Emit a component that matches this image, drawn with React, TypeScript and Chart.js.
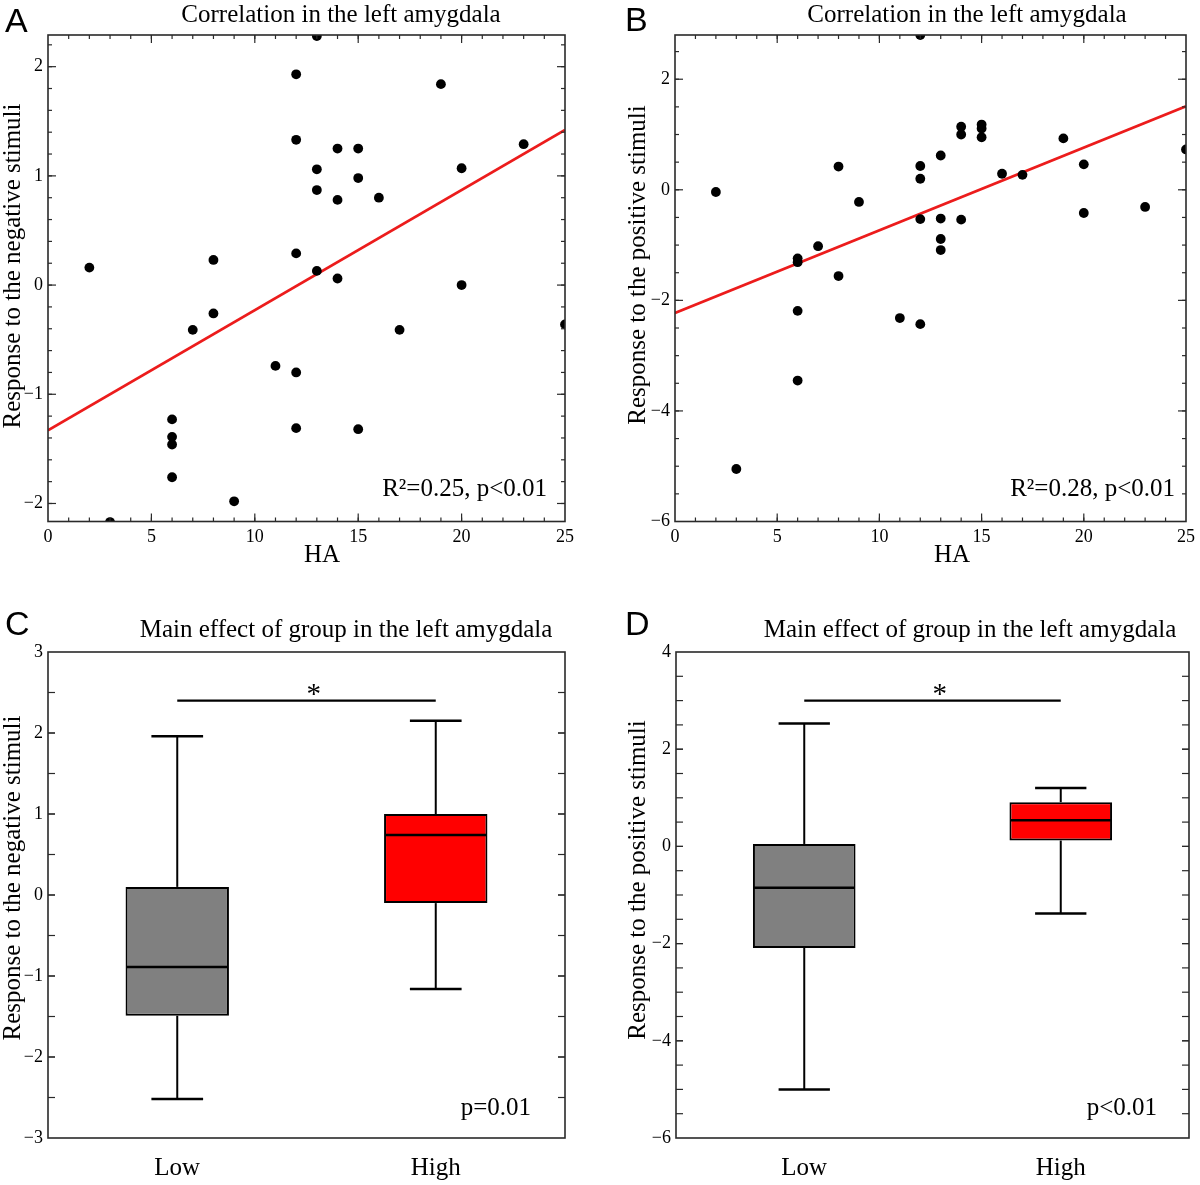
import React, { useEffect, useRef } from 'react';
import { Chart, registerables } from 'chart.js';

Chart.register(...registerables);

const SERIF = '"Liberation Serif", "Times New Roman", serif';
const SANS = '"Liberation Sans", Arial, sans-serif';

// ---------- Panel A: HA vs response to negative stimuli ----------
const haA = [13, 12, 19, 12, 14, 15, 23, 13, 20, 15, 13, 14, 16, 2, 8, 12, 13, 14, 20, 7, 8, 17, 25, 11, 12, 6, 6, 6, 12, 15, 6, 9, 3];
const negRespA = [2.28, 1.93, 1.84, 1.33, 1.25, 1.25, 1.29, 1.06, 1.07, 0.98, 0.87, 0.78, 0.8, 0.16, 0.23, 0.29, 0.13, 0.06, 0.0, -0.41, -0.26, -0.41, -0.36, -0.74, -0.8, -1.23, -1.39, -1.46, -1.31, -1.32, -1.76, -1.98, -2.17];
const fitXA = [0, 25];
const fitYA = [-1.33, 1.42];

// ---------- Panel B: HA vs response to positive stimuli ----------
const haB = [12, 2, 14, 14, 15, 15, 15, 19, 25, 13, 8, 12, 12, 16, 17, 20, 9, 23, 20, 12, 13, 14, 13, 13, 7, 6, 6, 8, 6, 11, 12, 6, 3];
const posRespB = [2.8, -0.04, 1.14, 1.0, 1.18, 1.11, 0.95, 0.93, 0.73, 0.62, 0.42, 0.43, 0.2, 0.29, 0.27, 0.46, -0.22, -0.31, -0.42, -0.53, -0.52, -0.54, -0.89, -1.09, -1.02, -1.24, -1.31, -1.56, -2.19, -2.32, -2.43, -3.45, -5.05];
const fitXB = [0, 25];
const fitYB = [-2.23, 1.51];

// ---------- Tick labels ----------
const xTicksAB = [0, 5, 10, 15, 20, 25];
const yTicksA = [-2, -1, 0, 1, 2];
const yTicksB = [-6, -4, -2, 0, 2];
const yTicksC = [-3, -2, -1, 0, 1, 2, 3];
const yTicksD = [-6, -4, -2, 0, 2, 4];

// ---------- Panels C / D: box plots by group ----------
const groups = ['Low', 'High'];
const minC = [-2.52, -1.16];
const q1C = [-1.49, -0.1];
const medC = [-0.89, 0.74];
const q3C = [0.1, 1.0];
const maxC = [1.96, 2.15];
const sigC = 2.4;

const minD = [-5.0, -1.38];
const q1D = [-2.09, 0.12];
const medD = [-0.85, 0.54];
const q3D = [0.05, 0.91];
const maxD = [2.53, 1.2];
const sigD = 3.0;

const boxColors = ['#808080', '#ff0000'];
const fitColor = '#ec1c1c';

// ---------- helpers ----------
const fmt = (v: number) => String(v).replace('-', '\u2212');

function stepsIn(min: number, max: number, step: number): number[] {
  const out: number[] = [];
  const start = Math.ceil(min / step - 1e-9);
  const end = Math.floor(max / step + 1e-9);
  for (let k = start; k <= end; k++) out.push(+(k * step).toFixed(6));
  return out;
}

type TextItem = {
  text: string;
  x: number;
  y: number;
  size: number;
  family?: string;
  align?: CanvasTextAlign;
  baseline?: CanvasTextBaseline;
  rotate?: number;
};

function textPlugin(items: TextItem[]) {
  return {
    id: 'panelText',
    afterDraw(chart: any) {
      const ctx = chart.ctx as CanvasRenderingContext2D;
      items.forEach((it) => {
        ctx.save();
        ctx.font = `${it.size}px ${it.family || SERIF}`;
        ctx.fillStyle = '#000';
        ctx.textAlign = it.align || 'center';
        ctx.textBaseline = it.baseline || 'alphabetic';
        ctx.translate(it.x, it.y);
        if (it.rotate) ctx.rotate(it.rotate);
        ctx.fillText(it.text, 0, 0);
        ctx.restore();
      });
    },
  };
}

type FrameCfg = {
  xMajor: number[];
  xMinor: number[];
  yMajor: number[];
  yMinor: number[];
  majorLen: number;
  minorLen: number;
};

function framePlugin(cfg: FrameCfg) {
  return {
    id: 'frameTicks',
    afterDatasetsDraw(chart: any) {
      const ctx = chart.ctx as CanvasRenderingContext2D;
      const a = chart.chartArea;
      const { x, y } = chart.scales;
      const seg = (x0: number, y0: number, x1: number, y1: number) => {
        ctx.beginPath();
        ctx.moveTo(x0, y0);
        ctx.lineTo(x1, y1);
        ctx.stroke();
      };
      ctx.save();
      ctx.strokeStyle = '#2a2a2a';
      ctx.lineWidth = 1.2;
      const yTick = (v: number, len: number) => {
        const py = y.getPixelForValue(v);
        if (py < a.top + 1 || py > a.bottom - 1) return;
        seg(a.left, py, a.left + len, py);
        seg(a.right, py, a.right - len, py);
      };
      const xTick = (v: number, len: number) => {
        const px = x.getPixelForValue(v);
        if (px < a.left + 1 || px > a.right - 1) return;
        seg(px, a.bottom, px, a.bottom - len);
        seg(px, a.top, px, a.top + len);
      };
      cfg.yMinor.forEach((v) => yTick(v, cfg.minorLen));
      cfg.yMajor.forEach((v) => yTick(v, cfg.majorLen));
      cfg.xMinor.forEach((v) => xTick(v, cfg.minorLen));
      cfg.xMajor.forEach((v) => xTick(v, cfg.majorLen));
      ctx.lineWidth = 1.6;
      ctx.strokeRect(a.left, a.top, a.right - a.left, a.bottom - a.top);
      ctx.restore();
    },
  };
}

function boxPlugin(mins: number[], meds: number[], maxs: number[], sig: number) {
  return {
    id: 'boxWhiskers',
    afterDatasetsDraw(chart: any) {
      const ctx = chart.ctx as CanvasRenderingContext2D;
      const ys = chart.scales.y;
      const meta = chart.getDatasetMeta(0);
      const seg = (x0: number, y0: number, x1: number, y1: number) => {
        ctx.beginPath();
        ctx.moveTo(x0, y0);
        ctx.lineTo(x1, y1);
        ctx.stroke();
      };
      ctx.save();
      ctx.strokeStyle = '#000';
      meta.data.forEach((bar: any, i: number) => {
        const p = bar.getProps(['x', 'y', 'base', 'width'], true);
        const top = Math.min(p.y, p.base);
        const bottom = Math.max(p.y, p.base);
        const w = p.width;
        const yMax = ys.getPixelForValue(maxs[i]);
        const yMin = ys.getPixelForValue(mins[i]);
        const yMed = ys.getPixelForValue(meds[i]);
        ctx.lineWidth = 2;
        seg(p.x, top, p.x, yMax);
        seg(p.x, bottom, p.x, yMin);
        ctx.lineWidth = 2.5;
        seg(p.x - w / 4, yMax, p.x + w / 4, yMax);
        seg(p.x - w / 4, yMin, p.x + w / 4, yMin);
        seg(p.x - w / 2 + 1, yMed, p.x + w / 2 - 1, yMed);
      });
      const x0 = meta.data[0].x;
      const x1 = meta.data[1].x;
      const yS = ys.getPixelForValue(sig);
      ctx.lineWidth = 2.3;
      seg(x0, yS, x1, yS);
      ctx.fillStyle = '#000';
      ctx.font = `29px ${SERIF}`;
      ctx.textAlign = 'left';
      ctx.textBaseline = 'alphabetic';
      ctx.fillText('*', (x0 + x1) / 2, yS + 2);
      ctx.restore();
    },
  };
}

function yAxis(min: number, max: number, ticks: number[], width: number) {
  return {
    type: 'linear',
    min,
    max,
    afterBuildTicks: (s: any) => {
      s.ticks = ticks.map((v) => ({ value: v }));
    },
    afterFit: (s: any) => {
      s.width = width;
    },
    grid: { display: false, drawTicks: false },
    border: { display: false },
    ticks: {
      autoSkip: false,
      color: '#000',
      padding: 5,
      font: { family: SERIF, size: 18 },
      callback: (v: any) => fmt(Number(v)),
    },
  };
}

function scatterConfig(
  xs: number[],
  ys: number[],
  fitX: number[],
  fitY: number[],
  yMin: number,
  yMax: number,
  yTicks: number[],
  yMinorStep: number,
  axisW: number,
  padRight: number,
  texts: TextItem[]
): any {
  return {
    type: 'scatter',
    data: {
      datasets: [
        {
          label: 'subjects',
          data: xs.map((x, i) => ({ x, y: ys[i] })),
          backgroundColor: '#000',
          borderColor: '#000',
          borderWidth: 0,
          pointRadius: 4.9,
          showLine: false,
        },
        {
          label: 'fit',
          data: fitX.map((x, i) => ({ x, y: fitY[i] })),
          showLine: true,
          borderColor: fitColor,
          borderWidth: 2.7,
          pointRadius: 0,
          fill: false,
        },
      ],
    },
    options: {
      responsive: false,
      animation: false,
      events: [],
      layout: { padding: { left: 0, top: 35, right: padRight, bottom: 0 } },
      plugins: { legend: { display: false }, tooltip: { enabled: false }, title: { display: false } },
      scales: {
        x: {
          type: 'linear',
          min: 0,
          max: 25,
          afterBuildTicks: (s: any) => {
            s.ticks = xTicksAB.map((v) => ({ value: v }));
          },
          afterFit: (s: any) => {
            s.height = 58.5;
          },
          grid: { display: false, drawTicks: false },
          border: { display: false },
          ticks: {
            autoSkip: false,
            maxRotation: 0,
            color: '#000',
            padding: 5,
            font: { family: SERIF, size: 18 },
            callback: (v: any) => fmt(Number(v)),
          },
        },
        y: yAxis(yMin, yMax, yTicks, axisW),
      },
    },
    plugins: [
      framePlugin({
        xMajor: xTicksAB,
        xMinor: stepsIn(0, 25, 1),
        yMajor: yTicks,
        yMinor: stepsIn(yMin, yMax, yMinorStep),
        majorLen: 8,
        minorLen: 4,
      }),
      textPlugin(texts),
    ],
  };
}

function boxConfig(
  q1: number[],
  q3: number[],
  mins: number[],
  meds: number[],
  maxs: number[],
  sig: number,
  yMin: number,
  yMax: number,
  yTicks: number[],
  axisW: number,
  padRight: number,
  texts: TextItem[]
): any {
  return {
    type: 'bar',
    data: {
      labels: groups,
      datasets: [
        {
          label: 'IQR',
          data: q1.map((v, i) => [v, q3[i]]),
          backgroundColor: boxColors,
          borderColor: '#000',
          borderWidth: 2,
          borderSkipped: false,
          barPercentage: 0.4,
          categoryPercentage: 1.0,
        },
      ],
    },
    options: {
      responsive: false,
      animation: false,
      events: [],
      layout: { padding: { left: 0, top: 62, right: padRight, bottom: 0 } },
      plugins: { legend: { display: false }, tooltip: { enabled: false }, title: { display: false } },
      scales: {
        x: {
          type: 'category',
          afterFit: (s: any) => {
            s.height = 47;
          },
          grid: { display: false, drawTicks: false },
          border: { display: false },
          ticks: {
            color: '#000',
            padding: 15,
            maxRotation: 0,
            font: { family: SERIF, size: 25 },
          },
        },
        y: yAxis(yMin, yMax, yTicks, axisW),
      },
    },
    plugins: [
      boxPlugin(mins, meds, maxs, sig),
      framePlugin({
        xMajor: [],
        xMinor: [],
        yMajor: yTicks,
        yMinor: stepsIn(yMin, yMax, 0.5),
        majorLen: 7,
        minorLen: 7,
      }),
      textPlugin(texts),
    ],
  };
}

const ROT = -Math.PI / 2;

function makeA() {
  return scatterConfig(haA, negRespA, fitXA, fitYA, -2.165, 2.29, yTicksA, 0.2, 48, 35, [
    { text: 'A', x: 5, y: 32, size: 34, family: SANS, align: 'left' },
    { text: 'Correlation in the left amygdala', x: 341, y: 22, size: 25 },
    { text: 'Response to the negative stimuli', x: 13, y: 266, size: 25, rotate: ROT, baseline: 'middle' },
    { text: 'HA', x: 322, y: 562, size: 25 },
    { text: 'R\u00b2=0.25, p<0.01', x: 547, y: 496, size: 25, align: 'right' },
  ]);
}

function makeB() {
  return scatterConfig(haB, posRespB, fitXB, fitYB, -6, 2.8, yTicksB, 0.5, 75, 11, [
    { text: 'B', x: 25, y: 31, size: 34, family: SANS, align: 'left' },
    { text: 'Correlation in the left amygdala', x: 367, y: 22, size: 25 },
    { text: 'Response to the positive stimuli', x: 38, y: 265, size: 25, rotate: ROT, baseline: 'middle' },
    { text: 'HA', x: 352, y: 562, size: 25 },
    { text: 'R\u00b2=0.28, p<0.01', x: 575, y: 496, size: 25, align: 'right' },
  ]);
}

function makeC() {
  return boxConfig(q1C, q3C, minC, medC, maxC, sigC, -3, 3, yTicksC, 48, 35, [
    { text: 'C', x: 5, y: 45, size: 34, family: SANS, align: 'left' },
    { text: 'Main effect of group in the left amygdala', x: 346, y: 47, size: 25 },
    { text: 'Response to the negative stimuli', x: 13, y: 288, size: 25, rotate: ROT, baseline: 'middle' },
    { text: 'p=0.01', x: 531, y: 525, size: 25, align: 'right' },
  ]);
}

function makeD() {
  return boxConfig(q1D, q3D, minD, medD, maxD, sigD, -6, 4, yTicksD, 76, 11, [
    { text: 'D', x: 25, y: 45, size: 34, family: SANS, align: 'left' },
    { text: 'Main effect of group in the left amygdala', x: 370, y: 47, size: 25 },
    { text: 'Response to the positive stimuli', x: 38, y: 290, size: 25, rotate: ROT, baseline: 'middle' },
    { text: 'p<0.01', x: 557, y: 525, size: 25, align: 'right' },
  ]);
}

function Panel(props: { make: () => any; left: number; top: number; width: number; height: number }) {
  const ref = useRef<HTMLCanvasElement | null>(null);
  useEffect(() => {
    if (!ref.current) return;
    const chart = new Chart(ref.current, props.make());
    return () => chart.destroy();
  }, []);
  return (
    <canvas
      ref={ref}
      width={props.width}
      height={props.height}
      style={{ position: 'absolute', left: props.left, top: props.top, width: props.width, height: props.height }}
    />
  );
}

export default function App() {
  return (
    <div style={{ position: 'absolute', left: 0, top: 0, width: 1200, height: 1185, background: '#fff', overflow: 'hidden' }}>
      <Panel make={makeA} left={0} top={0} width={600} height={580} />
      <Panel make={makeB} left={600} top={0} width={600} height={580} />
      <Panel make={makeC} left={0} top={590} width={600} height={595} />
      <Panel make={makeD} left={600} top={590} width={600} height={595} />
    </div>
  );
}
